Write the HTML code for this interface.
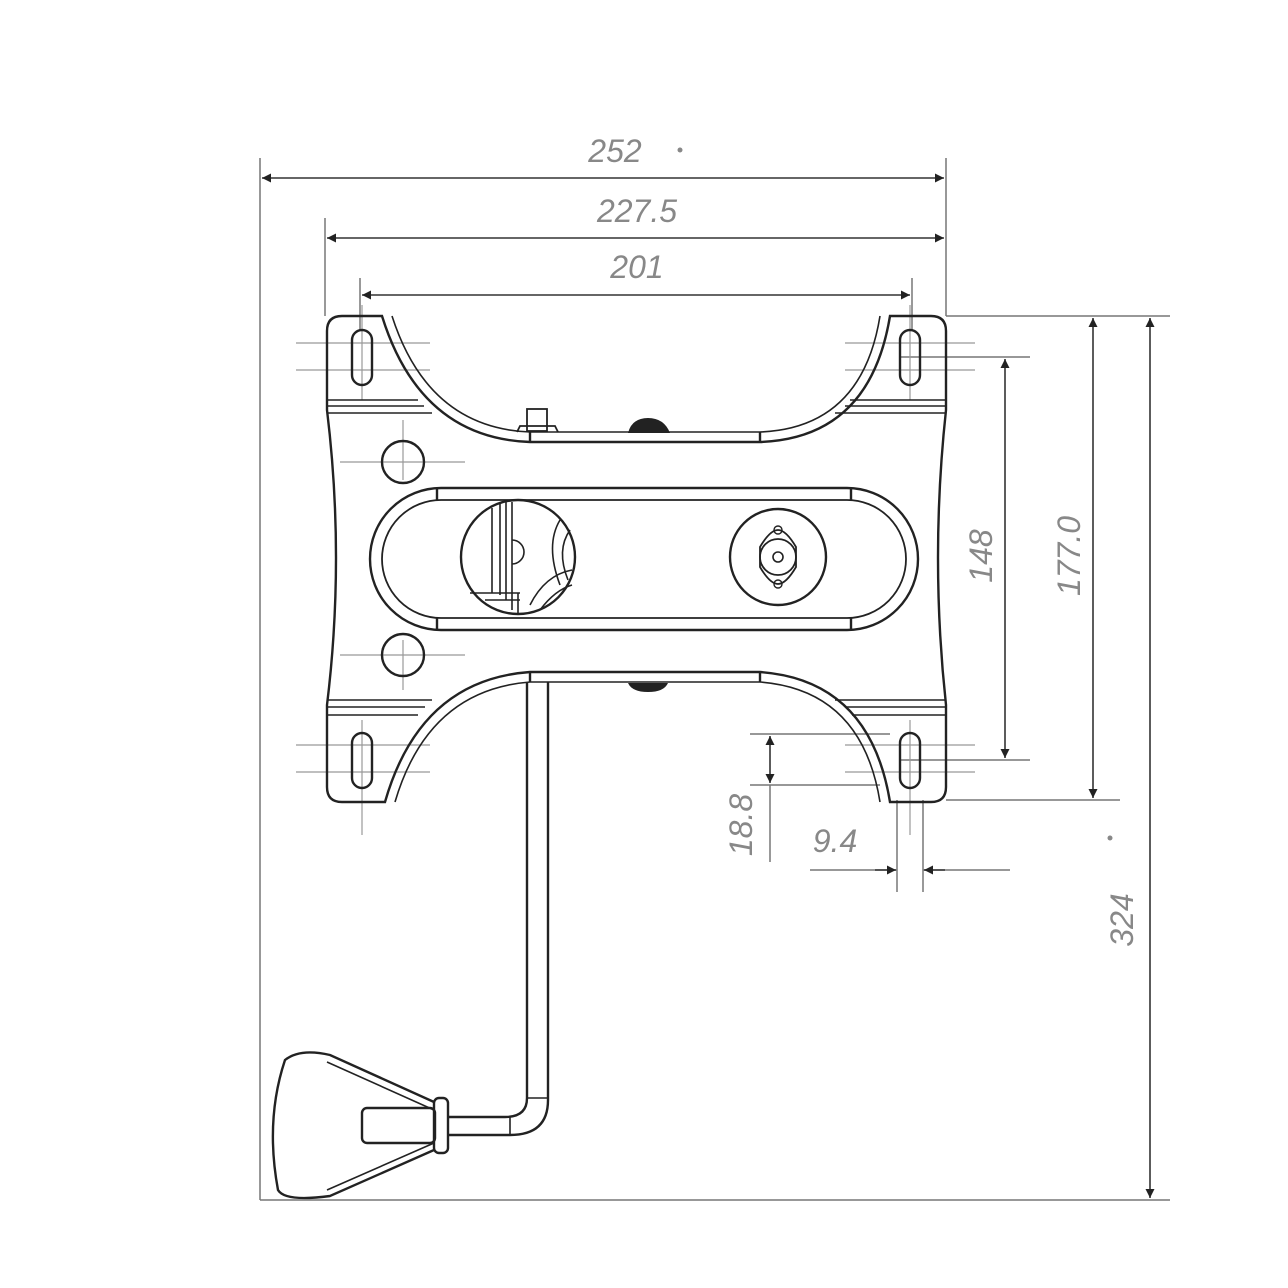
<!DOCTYPE html>
<html><head><meta charset="utf-8"><style>html,body{margin:0;padding:0;background:#fff}svg{display:block}</style></head>
<body>
<svg width="1288" height="1288" viewBox="0 0 1288 1288" xmlns="http://www.w3.org/2000/svg">
<defs>
<marker id="a" viewBox="0 0 10 10" refX="10" refY="5" markerWidth="16" markerHeight="9" markerUnits="userSpaceOnUse" orient="auto-start-reverse"><path d="M0,0 L10,5 L0,10 z" fill="#222"/></marker>
</defs>
<rect width="1288" height="1288" fill="#fff"/>
<!-- dimension & extension lines -->
<g stroke="#777" stroke-width="1.5" fill="none">
<line x1="260" y1="158" x2="260" y2="1200"/>
<line x1="946" y1="158" x2="946" y2="316"/>
<line x1="325" y1="218" x2="325" y2="316"/>
<line x1="360" y1="278" x2="360" y2="330"/>
<line x1="912" y1="278" x2="912" y2="330"/>
<line x1="260" y1="1200" x2="1170" y2="1200"/>
<line x1="946" y1="316" x2="1170" y2="316"/>
<line x1="946" y1="800" x2="1120" y2="800"/>
<line x1="900" y1="357" x2="1030" y2="357"/>
<line x1="900" y1="760" x2="1030" y2="760"/>
<line x1="750" y1="734" x2="890" y2="734"/>
<line x1="750" y1="785" x2="880" y2="785"/>
<line x1="897" y1="800" x2="897" y2="892"/>
<line x1="923" y1="800" x2="923" y2="892"/>
<line x1="770" y1="785" x2="770" y2="862"/>
<line x1="810" y1="870" x2="897" y2="870"/>
<line x1="923" y1="870" x2="1010" y2="870"/>
</g>
<g stroke="#333" stroke-width="1.6" fill="none">
<line x1="262" y1="178" x2="944" y2="178" marker-start="url(#a)" marker-end="url(#a)"/>
<line x1="327" y1="238" x2="944" y2="238" marker-start="url(#a)" marker-end="url(#a)"/>
<line x1="362" y1="295" x2="910" y2="295" marker-start="url(#a)" marker-end="url(#a)"/>
<line x1="1005" y1="359" x2="1005" y2="758" marker-start="url(#a)" marker-end="url(#a)"/>
<line x1="1093" y1="318" x2="1093" y2="798" marker-start="url(#a)" marker-end="url(#a)"/>
<line x1="1150" y1="318" x2="1150" y2="1198" marker-start="url(#a)" marker-end="url(#a)"/>
<line x1="770" y1="736" x2="770" y2="760" marker-start="url(#a)"/>
<line x1="770" y1="760" x2="770" y2="783" marker-end="url(#a)"/>
<line x1="875" y1="870" x2="896" y2="870" marker-end="url(#a)"/>
<line x1="945" y1="870" x2="924" y2="870" marker-end="url(#a)"/>
</g>
<g fill="#888" font-family="Liberation Sans, sans-serif" font-size="32" font-style="italic">
<text x="615" y="162" text-anchor="middle">252</text>
<circle cx="680" cy="150" r="2.5"/>
<text x="637" y="222" text-anchor="middle">227.5</text>
<text x="637" y="278" text-anchor="middle">201</text>
<text x="835" y="852" text-anchor="middle">9.4</text>
<text transform="translate(992,556) rotate(-90)" text-anchor="middle">148</text>
<text transform="translate(1080,556) rotate(-90)" text-anchor="middle">177.0</text>
<text transform="translate(1133,920) rotate(-90)" text-anchor="middle">324</text>
<text transform="translate(752,825) rotate(-90)" text-anchor="middle">18.8</text>
<circle cx="1110" cy="838" r="2.5"/>
</g>
<!-- center lines -->
<g stroke="#999" stroke-width="1.2">
<line x1="296" y1="343" x2="430" y2="343"/><line x1="296" y1="370" x2="430" y2="370"/>
<line x1="845" y1="343" x2="975" y2="343"/><line x1="845" y1="370" x2="975" y2="370"/>
<line x1="296" y1="745" x2="430" y2="745"/><line x1="296" y1="772" x2="430" y2="772"/>
<line x1="845" y1="745" x2="975" y2="745"/><line x1="845" y1="772" x2="975" y2="772"/>
<line x1="362" y1="305" x2="362" y2="400"/><line x1="910" y1="305" x2="910" y2="400"/>
<line x1="362" y1="720" x2="362" y2="835"/><line x1="910" y1="720" x2="910" y2="835"/>
<line x1="340" y1="462" x2="465" y2="462"/><line x1="340" y1="655" x2="465" y2="655"/>
<line x1="403" y1="420" x2="403" y2="480"/><line x1="403" y1="640" x2="403" y2="690"/>
</g>
<!-- plate -->
<g stroke="#222" stroke-width="2.4" fill="none">
<path d="M382,316 L342,316 Q327,316 327,331 L327,410 Q345,558 327,705 L327,787 Q327,802 342,802 L385,802
 Q420,680 530,672 L760,672 Q870,680 890,802 L931,802 Q946,802 946,787 L946,705 Q930,558 946,410 L946,331 Q946,316 931,316 L890,316
 Q870,438 760,442 L530,442 Q420,438 382,316 Z"/>
<path d="M392,316 Q428,428 530,432 L760,432 Q862,428 880,316" stroke-width="1.6"/>
<path d="M395,802 Q428,690 530,682 L760,682 Q862,690 880,802" stroke-width="1.6"/>
<line x1="530" y1="432" x2="530" y2="442"/><line x1="760" y1="432" x2="760" y2="442"/>
<line x1="530" y1="672" x2="530" y2="682"/><line x1="760" y1="672" x2="760" y2="682"/>
<g stroke-width="1.6">
<line x1="327" y1="400" x2="418" y2="400"/><line x1="327" y1="406" x2="424" y2="406"/><line x1="327" y1="413" x2="432" y2="413"/>
<line x1="946" y1="400" x2="850" y2="400"/><line x1="946" y1="406" x2="845" y2="406"/><line x1="946" y1="413" x2="835" y2="413"/>
<line x1="327" y1="700" x2="432" y2="700"/><line x1="327" y1="707" x2="425" y2="707"/><line x1="327" y1="715" x2="418" y2="715"/>
<line x1="946" y1="700" x2="835" y2="700"/><line x1="946" y1="707" x2="845" y2="707"/><line x1="946" y1="715" x2="852" y2="715"/>
</g>
<rect x="352" y="330" width="20" height="55" rx="10"/>
<rect x="900" y="330" width="20" height="55" rx="10"/>
<rect x="352" y="733" width="20" height="55" rx="10"/>
<rect x="900" y="733" width="20" height="55" rx="10"/>
<circle cx="403" cy="462" r="21"/><circle cx="403" cy="655" r="21"/>
<rect x="370" y="488" width="548" height="142" rx="71"/>
<rect x="382" y="500" width="524" height="118" rx="59" stroke-width="1.8"/>
<line x1="437" y1="488" x2="437" y2="500"/><line x1="851" y1="488" x2="851" y2="500"/>
<line x1="437" y1="618" x2="437" y2="630"/><line x1="851" y1="618" x2="851" y2="630"/>
<circle cx="518" cy="557" r="57"/>
<g stroke-width="1.6">
<line x1="492" y1="508" x2="492" y2="593"/><line x1="500" y1="502" x2="500" y2="595"/><line x1="506" y1="502" x2="506" y2="600"/><line x1="512" y1="502" x2="512" y2="610"/>
<path d="M512,540 A12,12 0 0 1 512,564"/>
<path d="M560,520 Q545,545 560,585"/><path d="M570,530 Q556,550 568,580"/>
<path d="M530,605 Q545,575 572,570"/><path d="M540,610 Q555,590 572,585"/>
<line x1="470" y1="593" x2="520" y2="593"/><line x1="485" y1="600" x2="520" y2="600"/><line x1="518" y1="593" x2="518" y2="613"/>
</g>
<circle cx="778" cy="557" r="48"/>
<path d="M760,547 Q770,530 778,530 Q786,530 796,547 L796,567 Q786,584 778,584 Q770,584 760,567 Z" stroke-width="1.8"/>
<circle cx="778" cy="557" r="18" stroke-width="1.8"/>
<circle cx="778" cy="557" r="5" stroke-width="1.6"/>
<circle cx="778" cy="530" r="4" stroke-width="1.4"/><circle cx="778" cy="584" r="4" stroke-width="1.4"/>
<rect x="527" y="409" width="20" height="22" stroke-width="1.8"/>
<path d="M517,432 L520,426 L555,426 L558,432" stroke-width="1.8"/>
<!-- rod -->
<path d="M527,682 L527,1098 Q527,1117 505,1117 L448,1117 M548,682 L548,1100 Q548,1135 510,1135 L448,1135"/>
<line x1="527" y1="1098" x2="548" y2="1098" stroke-width="1.6"/>
<line x1="510" y1="1117" x2="510" y2="1135" stroke-width="1.6"/>
<!-- handle -->
<rect x="434" y="1098" width="14" height="55" rx="5"/>
<rect x="362" y="1108" width="73" height="35" rx="5"/>
<path d="M434,1102 L330,1055 Q300,1048 285,1060 Q265,1120 278,1190 Q285,1202 330,1196 L434,1150"/>
<path d="M434,1110 L327,1062 M434,1143 L327,1190" stroke-width="1.6"/>
</g>
<g fill="#222">
<path d="M628,433 Q632,418 648,418 Q664,418 670,433 Z"/>
<path d="M628,683 Q632,692 648,692 Q664,692 668,683 Z"/>
</g>
</svg>
</body></html>
